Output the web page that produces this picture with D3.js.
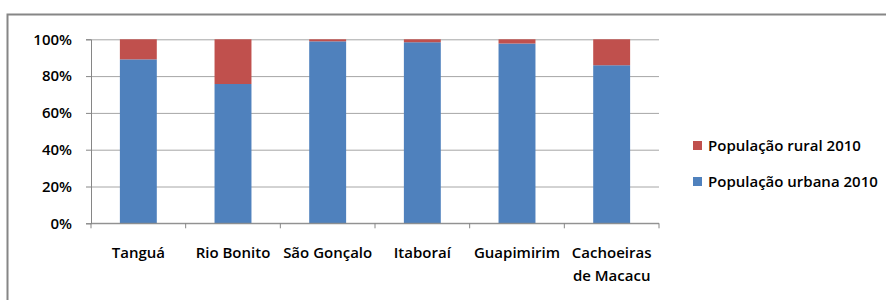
<!DOCTYPE html>
<html lang="en">
<head>
<meta charset="utf-8">
<title>População urbana e rural 2010</title>
<script src="https://cdnjs.cloudflare.com/ajax/libs/d3/7.7.0/d3.min.js"></script>
<style>
  body { margin: 0; background: #fff; }
  svg text { font-family: "Open Sans", "Noto Sans", sans-serif; font-weight: 600; fill: #000; }
</style>
</head>
<body>
<div class="graph"></div>
<script>
// data
const categories = ["Tanguá", "Rio Bonito", "São Gonçalo", "Itaboraí", "Guapimirim", "Cachoeiras de Macacu"];
const urbana = [89.1, 75.7, 98.9, 98.4, 97.7, 85.9];
const rural = [10.9, 24.3, 1.1, 1.6, 2.3, 14.1];
const yTicks = [0, 20, 40, 60, 80, 100];
const seriesNames = ["População urbana 2010", "População rural 2010"];
const colors = ["#4F81BD", "#C0504D"];

const w = 886, h = 300;
const plotL = 91, plotR = 659, plotT = 39.3, plotB = 223.3;

const svg = d3.select(".graph").append("svg")
  .attr("width", w).attr("height", h);

// outer chart frame
svg.append("rect")
  .attr("x", 7.5).attr("y", 14.5)
  .attr("width", 900).attr("height", 320)
  .attr("fill", "#fff")
  .attr("stroke", "#868686")
  .attr("stroke-width", 2);

const x = d3.scaleBand()
  .domain(categories)
  .range([plotL, plotR])
  .paddingInner(0.61)
  .paddingOuter(0.305);

const y = d3.scaleLinear().domain([0, 100]).range([plotB, plotT]);

// gridlines
svg.append("g")
  .attr("transform", `translate(${plotL},0)`)
  .call(d3.axisLeft(y).tickValues(yTicks).tickSize(-(plotR - plotL)).tickFormat(""))
  .call(g => g.select(".domain").remove())
  .call(g => g.selectAll("line").attr("stroke", "#a6a6a6"));

// y axis
svg.append("g")
  .attr("transform", `translate(${plotL},0)`)
  .call(d3.axisLeft(y).tickValues(yTicks).tickSize(5).tickPadding(14).tickFormat(d => d + "%"))
  .call(g => g.select(".domain").attr("stroke", "#868686"))
  .call(g => g.selectAll("line").attr("stroke", "#868686"))
  .call(g => g.selectAll("text").attr("font-size", 15).style("font-family", null))
  .attr("font-family", null);

// stacked bars
const table = categories.map((c, i) => ({ cat: c, urbana: urbana[i], rural: rural[i] }));
const stacked = d3.stack().keys(["urbana", "rural"])(table);

svg.append("g").selectAll("g")
  .data(stacked)
  .enter().append("g")
  .attr("fill", (d, i) => colors[i])
  .selectAll("rect")
  .data(d => d)
  .enter().append("rect")
  .attr("x", d => x(d.data.cat))
  .attr("width", x.bandwidth())
  .attr("y", d => y(d[1]))
  .attr("height", d => y(d[0]) - y(d[1]));

// x axis line and category ticks
const xa = svg.append("g");
xa.append("line")
  .attr("x1", plotL).attr("x2", plotR)
  .attr("y1", plotB).attr("y2", plotB)
  .attr("stroke", "#868686");
xa.selectAll(".tk")
  .data(d3.range(categories.length + 1))
  .enter().append("line")
  .attr("x1", i => plotL + i * x.step()).attr("x2", i => plotL + i * x.step())
  .attr("y1", plotB).attr("y2", plotB + 5)
  .attr("stroke", "#868686");

// category labels, wrapped when too wide
xa.selectAll(".lbl")
  .data(categories)
  .enter().append("text")
  .attr("text-anchor", "middle")
  .attr("font-size", 15)
  .attr("y", 258)
  .each(function(d) {
    const t = d3.select(this);
    const cx = x(d) + x.bandwidth() / 2;
    t.append("tspan").attr("x", cx).text(d);
    if (this.getComputedTextLength() > x.step() - 2) {
      t.text("");
      const words = d.split(" ");
      t.append("tspan").attr("x", cx).text(words[0]);
      t.append("tspan").attr("x", cx).attr("dy", 23).text(words.slice(1).join(" "));
    }
  });

// legend (rural first, like the reference)
const legendOrder = [1, 0];
const legend = svg.append("g").selectAll("g")
  .data(legendOrder)
  .enter().append("g")
  .attr("transform", (d, i) => `translate(693,${141 + i * 36})`);
legend.append("rect")
  .attr("width", 9).attr("height", 9)
  .attr("fill", d => colors[d]);
legend.append("text")
  .attr("x", 15).attr("y", 10)
  .attr("font-size", 15)
  .text(d => seriesNames[d]);
</script>
</body>
</html>
